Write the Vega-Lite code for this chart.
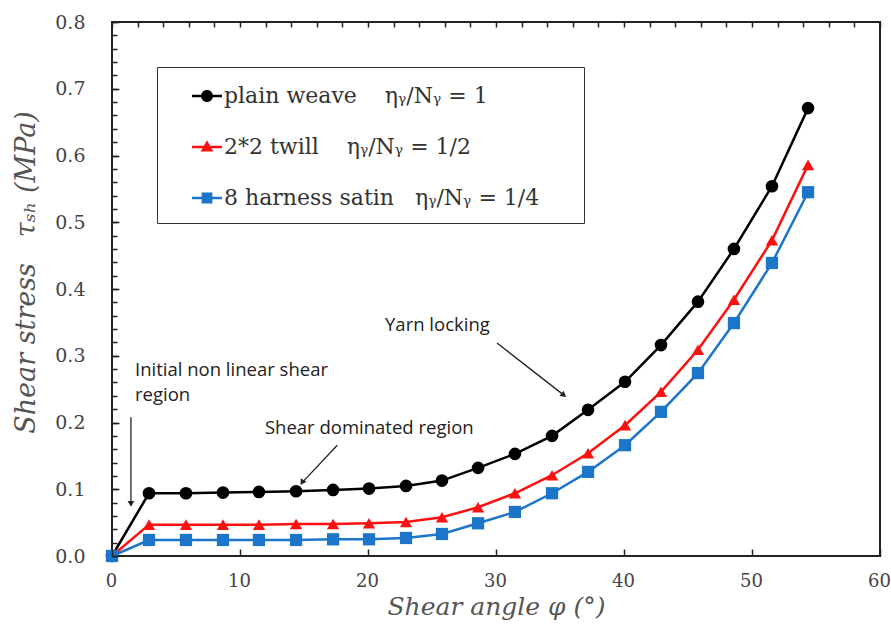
{
  "$schema": "https://vega.github.io/schema/vega-lite/v6.json",
  "width": 768,
  "height": 534,
  "autosize": {"type": "none"},
  "padding": {"left": 112, "top": 22, "right": 11, "bottom": 71},
  "background": "white",
  "config": {
    "view": {"stroke": "#222", "strokeWidth": 2},
    "axis": {"grid": false, "domain": false, "labelFlush": false, "ticks": true}
  },
  "datasets": {
    "series": [
      {"weave": "plain weave", "angle": 0, "stress": 0},
      {"weave": "plain weave", "angle": 2.89, "stress": 0.094},
      {"weave": "plain weave", "angle": 5.78, "stress": 0.094},
      {"weave": "plain weave", "angle": 8.67, "stress": 0.095},
      {"weave": "plain weave", "angle": 11.48, "stress": 0.096},
      {"weave": "plain weave", "angle": 14.38, "stress": 0.097},
      {"weave": "plain weave", "angle": 17.27, "stress": 0.099},
      {"weave": "plain weave", "angle": 20.08, "stress": 0.101},
      {"weave": "plain weave", "angle": 22.97, "stress": 0.105},
      {"weave": "plain weave", "angle": 25.78, "stress": 0.113},
      {"weave": "plain weave", "angle": 28.6, "stress": 0.132},
      {"weave": "plain weave", "angle": 31.48, "stress": 0.153},
      {"weave": "plain weave", "angle": 34.38, "stress": 0.18},
      {"weave": "plain weave", "angle": 37.19, "stress": 0.219},
      {"weave": "plain weave", "angle": 40.08, "stress": 0.261},
      {"weave": "plain weave", "angle": 42.89, "stress": 0.316},
      {"weave": "plain weave", "angle": 45.78, "stress": 0.381},
      {"weave": "plain weave", "angle": 48.59, "stress": 0.46},
      {"weave": "plain weave", "angle": 51.56, "stress": 0.554},
      {"weave": "plain weave", "angle": 54.38, "stress": 0.671},
      {"weave": "2*2 twill", "angle": 0, "stress": 0},
      {"weave": "2*2 twill", "angle": 2.89, "stress": 0.047},
      {"weave": "2*2 twill", "angle": 5.78, "stress": 0.047},
      {"weave": "2*2 twill", "angle": 8.67, "stress": 0.047},
      {"weave": "2*2 twill", "angle": 11.48, "stress": 0.047},
      {"weave": "2*2 twill", "angle": 14.38, "stress": 0.048},
      {"weave": "2*2 twill", "angle": 17.27, "stress": 0.048},
      {"weave": "2*2 twill", "angle": 20.08, "stress": 0.049},
      {"weave": "2*2 twill", "angle": 22.97, "stress": 0.051},
      {"weave": "2*2 twill", "angle": 25.78, "stress": 0.058},
      {"weave": "2*2 twill", "angle": 28.6, "stress": 0.073},
      {"weave": "2*2 twill", "angle": 31.48, "stress": 0.094},
      {"weave": "2*2 twill", "angle": 34.38, "stress": 0.121},
      {"weave": "2*2 twill", "angle": 37.19, "stress": 0.154},
      {"weave": "2*2 twill", "angle": 40.08, "stress": 0.196},
      {"weave": "2*2 twill", "angle": 42.89, "stress": 0.246},
      {"weave": "2*2 twill", "angle": 45.78, "stress": 0.309},
      {"weave": "2*2 twill", "angle": 48.59, "stress": 0.384},
      {"weave": "2*2 twill", "angle": 51.56, "stress": 0.473},
      {"weave": "2*2 twill", "angle": 54.38, "stress": 0.586},
      {"weave": "8 harness satin", "angle": 0, "stress": 0},
      {"weave": "8 harness satin", "angle": 2.89, "stress": 0.024},
      {"weave": "8 harness satin", "angle": 5.78, "stress": 0.024},
      {"weave": "8 harness satin", "angle": 8.67, "stress": 0.024},
      {"weave": "8 harness satin", "angle": 11.48, "stress": 0.024},
      {"weave": "8 harness satin", "angle": 14.38, "stress": 0.024},
      {"weave": "8 harness satin", "angle": 17.27, "stress": 0.025},
      {"weave": "8 harness satin", "angle": 20.08, "stress": 0.025},
      {"weave": "8 harness satin", "angle": 22.97, "stress": 0.027},
      {"weave": "8 harness satin", "angle": 25.78, "stress": 0.033},
      {"weave": "8 harness satin", "angle": 28.6, "stress": 0.049},
      {"weave": "8 harness satin", "angle": 31.48, "stress": 0.066},
      {"weave": "8 harness satin", "angle": 34.38, "stress": 0.094},
      {"weave": "8 harness satin", "angle": 37.19, "stress": 0.126},
      {"weave": "8 harness satin", "angle": 40.08, "stress": 0.166},
      {"weave": "8 harness satin", "angle": 42.89, "stress": 0.216},
      {"weave": "8 harness satin", "angle": 45.78, "stress": 0.274},
      {"weave": "8 harness satin", "angle": 48.59, "stress": 0.349},
      {"weave": "8 harness satin", "angle": 51.56, "stress": 0.439},
      {"weave": "8 harness satin", "angle": 54.38, "stress": 0.545}
    ],
    "arrows": [
      {"id": "a1", "x": 1.48, "y": 0.208, "x2": 1.48, "y2": 0.078},
      {"id": "a2", "x": 17.6, "y": 0.166, "x2": 14.85, "y2": 0.11},
      {"id": "a3", "x": 30.08, "y": 0.319, "x2": 35.3, "y2": 0.241}
    ],
    "notes": [
      {"x": 1.8, "y": 0.279, "label": "Initial non linear shear"},
      {"x": 1.8, "y": 0.241, "label": "region"},
      {"x": 11.95, "y": 0.192, "label": "Shear dominated region"},
      {"x": 21.33, "y": 0.346, "label": "Yarn locking"}
    ]
  },
  "resolve": {"axis": {"x": "independent", "y": "independent"}},
  "layer": [
    {
      "data": {"name": "series"},
      "transform": [{"filter": {"field": "weave", "equal": "plain weave"}}],
      "mark": {"type": "line", "strokeWidth": 2.5, "color": "#000000"},
      "encoding": {
        "x": {
          "field": "angle", "type": "quantitative",
          "scale": {"domain": [0, 60], "nice": false},
          "axis": {
            "orient": "bottom",
            "values": [0, 10, 20, 30, 40, 50, 60],
            "ticks": true, "zindex": 1,
            "offset": -7, "tickSize": 7, "tickColor": "#222", "tickWidth": 1.5,
            "labelPadding": 16, "labelOffset": -1,
            "labelFont": "DejaVu Serif", "labelFontSize": 18, "labelColor": "#444",
            "title": "Shear angle φ (°)",
            "titleFont": "DejaVu Serif", "titleFontSize": 25, "titleFontStyle": "italic",
            "titleFontWeight": "normal", "titleColor": "#555", "titlePadding": 4
          }
        },
        "y": {
          "field": "stress", "type": "quantitative",
          "scale": {"domain": [0, 0.8], "nice": false},
          "axis": {
            "orient": "left",
            "values": [0, 0.1, 0.2, 0.3, 0.4, 0.5, 0.6, 0.7, 0.8],
            "format": ".1f",
            "ticks": true, "zindex": 1,
            "offset": -7, "tickSize": 7, "tickColor": "#222", "tickWidth": 1.5,
            "labelPadding": 27,
            "labelFont": "DejaVu Serif", "labelFontSize": 19, "labelColor": "#444",
            "title": "Shear stress\u00a0\u00a0 τₛₕ\u00a0(MPa)",
            "titleFont": "DejaVu Serif", "titleFontSize": 27, "titleFontStyle": "italic",
            "titleFontWeight": "normal", "titleColor": "#555", "titlePadding": 14,
            "titleY": 250
          }
        }
      }
    },
    {
      "data": {"name": "series"},
      "transform": [{"filter": {"field": "weave", "equal": "2*2 twill"}}],
      "mark": {"type": "line", "strokeWidth": 2.5, "color": "#ff1010"},
      "encoding": {
        "x": {"field": "angle", "type": "quantitative", "axis": null},
        "y": {"field": "stress", "type": "quantitative", "axis": null}
      }
    },
    {
      "data": {"name": "series"},
      "transform": [{"filter": {"field": "weave", "equal": "8 harness satin"}}],
      "mark": {"type": "line", "strokeWidth": 2.5, "color": "#1b75c9"},
      "encoding": {
        "x": {"field": "angle", "type": "quantitative", "axis": null},
        "y": {"field": "stress", "type": "quantitative", "axis": null}
      }
    },
    {
      "data": {"name": "series"},
      "transform": [{"filter": {"field": "weave", "equal": "plain weave"}}],
      "mark": {"type": "point", "shape": "circle", "filled": true, "opacity": 1, "size": 160, "color": "#000000"},
      "encoding": {
        "x": {
          "field": "angle", "type": "quantitative",
          "axis": {
            "orient": "bottom",
            "values": [0, 2, 4, 6, 8, 10, 12, 14, 16, 18, 20, 22, 24, 26, 28, 30, 32, 34, 36, 38, 40, 42, 44, 46, 48, 50, 52, 54, 56, 58, 60],
            "ticks": false, "zindex": 1,
            "grid": true, "gridDash": [5, 2000], "gridColor": "#222", "gridWidth": 1.5, "gridOpacity": 1,
            "labels": false, "title": null
          }
        },
        "y": {
          "field": "stress", "type": "quantitative",
          "axis": {
            "orient": "left",
            "values": [0, 0.02, 0.04, 0.06, 0.08, 0.1, 0.12, 0.14, 0.16, 0.18, 0.2, 0.22, 0.24, 0.26, 0.28, 0.3, 0.32, 0.34, 0.36, 0.38, 0.4, 0.42, 0.44, 0.46, 0.48, 0.5, 0.52, 0.54, 0.56, 0.58, 0.6, 0.62, 0.64, 0.66, 0.68, 0.7, 0.72, 0.74, 0.76, 0.78, 0.8],
            "ticks": false, "zindex": 1,
            "grid": true, "gridDash": [5, 2000], "gridColor": "#222", "gridWidth": 1.5, "gridOpacity": 1,
            "labels": false, "title": null
          }
        }
      }
    },
    {
      "data": {"name": "series"},
      "transform": [{"filter": {"field": "weave", "equal": "2*2 twill"}}],
      "mark": {"type": "point", "shape": "triangle-up", "filled": true, "opacity": 1, "size": 150, "color": "#ff1010"},
      "encoding": {
        "x": {"field": "angle", "type": "quantitative", "axis": null},
        "y": {"field": "stress", "type": "quantitative", "axis": null}
      }
    },
    {
      "data": {"name": "series"},
      "transform": [{"filter": {"field": "weave", "equal": "8 harness satin"}}],
      "mark": {"type": "point", "shape": "square", "filled": true, "opacity": 1, "size": 150, "color": "#1b75c9"},
      "encoding": {
        "x": {"field": "angle", "type": "quantitative", "axis": null},
        "y": {"field": "stress", "type": "quantitative", "axis": null}
      }
    },
    {
      "data": {"name": "series"},
      "transform": [{"filter": {"field": "weave", "equal": "none"}}],
      "mark": {"type": "point", "filled": true, "opacity": 1, "size": 150},
      "encoding": {
        "x": {"field": "angle", "type": "quantitative", "axis": null},
        "y": {"field": "stress", "type": "quantitative", "axis": null},
        "color": {
          "field": "weave", "type": "nominal",
          "scale": {"domain": ["plain weave", "2*2 twill", "8 harness satin"], "range": ["#000000", "#ff1010", "#1b75c9"]},
          "legend": {
            "title": null,
            "orient": "none",
            "legendX": 45,
            "legendY": 45,
            "strokeColor": "#333",
            "fillColor": "white",
            "padding": 14,
            "rowPadding": 25,
            "symbolOffset": 21,
            "symbolSize": 900,
            "symbolStrokeWidth": 0,
            "labelOffset": 2,
            "labelFont": "DejaVu Serif",
            "labelFontSize": 22,
            "labelColor": "#333",
            "labelLimit": 600,
            "labelExpr": "datum.label == 'plain weave' ? 'plain weave\u00a0\u00a0\u00a0\u00a0ηᵧ/Nᵧ = 1' : datum.label == '2*2 twill' ? '2*2 twill\u00a0\u00a0\u00a0\u00a0ηᵧ/Nᵧ = 1/2' : '8 harness satin\u00a0\u00a0\u00a0ηᵧ/Nᵧ = 1/4\u00a0\u00a0\u2800'"
          }
        },
        "shape": {
          "field": "weave", "type": "nominal",
          "scale": {
            "domain": ["plain weave", "2*2 twill", "8 harness satin"],
            "range": [
              "M-1,-0.08L1,-0.08L1,0.08L-1,0.08Z M-0.4,0A0.4,0.4,0,1,1,0.4,0A0.4,0.4,0,1,1,-0.4,0Z",
              "M-1,-0.08L1,-0.08L1,0.08L-1,0.08Z M0,-0.45L0.42,0.3L-0.42,0.3Z",
              "M-1,-0.08L1,-0.08L1,0.08L-1,0.08Z M-0.36,-0.36L0.36,-0.36L0.36,0.36L-0.36,0.36Z"
            ]
          }
        }
      }
    },
    {
      "data": {"name": "arrows"},
      "mark": {"type": "rule", "color": "#222", "strokeWidth": 1.3},
      "encoding": {
        "x": {"field": "x", "type": "quantitative", "axis": null},
        "y": {"field": "y", "type": "quantitative", "axis": null},
        "x2": {"field": "x2"},
        "y2": {"field": "y2"}
      }
    },
    {
      "data": {"name": "arrows"},
      "transform": [{"filter": {"field": "id", "equal": "a1"}}],
      "mark": {"type": "point", "shape": "triangle-up", "filled": true, "color": "#222", "size": 45, "angle": 180, "opacity": 1},
      "encoding": {
        "x": {"field": "x2", "type": "quantitative", "axis": null},
        "y": {"field": "y2", "type": "quantitative", "axis": null}
      }
    },
    {
      "data": {"name": "arrows"},
      "transform": [{"filter": {"field": "id", "equal": "a2"}}],
      "mark": {"type": "point", "shape": "triangle-up", "filled": true, "color": "#222", "size": 45, "angle": 211, "opacity": 1},
      "encoding": {
        "x": {"field": "x2", "type": "quantitative", "axis": null},
        "y": {"field": "y2", "type": "quantitative", "axis": null}
      }
    },
    {
      "data": {"name": "arrows"},
      "transform": [{"filter": {"field": "id", "equal": "a3"}}],
      "mark": {"type": "point", "shape": "triangle-up", "filled": true, "color": "#222", "size": 45, "angle": 128, "opacity": 1},
      "encoding": {
        "x": {"field": "x2", "type": "quantitative", "axis": null},
        "y": {"field": "y2", "type": "quantitative", "axis": null}
      }
    },
    {
      "data": {"name": "notes"},
      "mark": {"type": "text", "align": "left", "baseline": "middle", "font": "Open Sans", "fontSize": 18.5, "color": "#222"},
      "encoding": {
        "x": {"field": "x", "type": "quantitative", "axis": null},
        "y": {"field": "y", "type": "quantitative", "axis": null},
        "text": {"field": "label"}
      }
    }
  ]
}
